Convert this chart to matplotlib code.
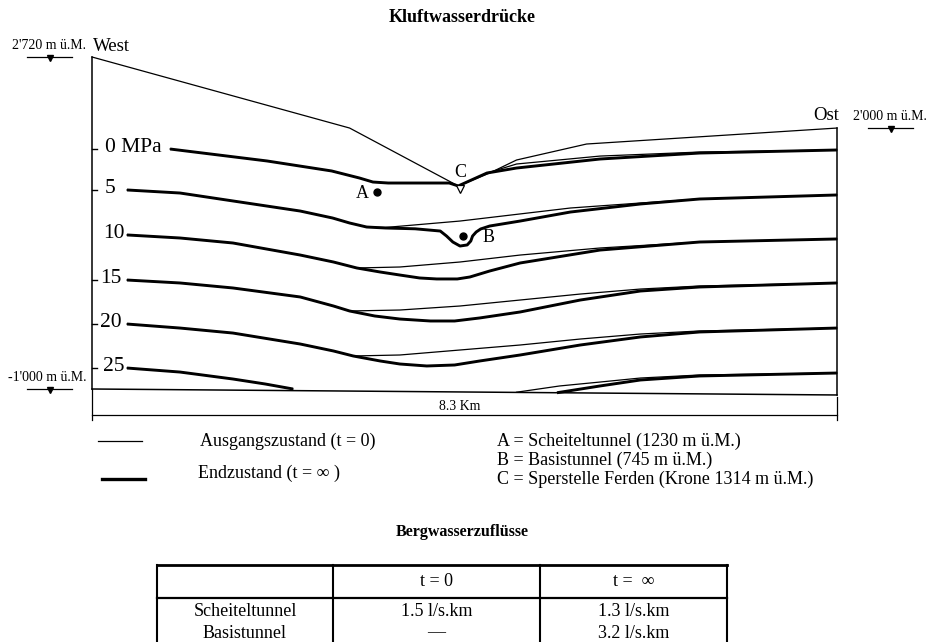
import matplotlib
matplotlib.use("Agg")
import matplotlib.pyplot as plt
from matplotlib.transforms import blended_transform_factory
from matplotlib.lines import Line2D

W, H = 926, 642
SERIF = ['Liberation Serif', 'DejaVu Serif']
plt.rcParams['font.family'] = SERIF

# ---------------- data: cross-section (distance km, elevation m ü.M.) ----------------
section_length_km = 8.3
top_west_m, bottom_m = 2720, -1000

terrain_km = [0.0, 2.87, 4.08, 4.43, 4.73, 5.51, 8.30]
terrain_m = [2720, 1924, 1275, 1420, 1566, 1745, 1924]

bottom_km = [0.0, 8.30]
bottom_line_m = [-1000, -1067]

iso_labels = ['0 MPa', '5', '10', '15', '20', '25']

p0_t0_km = [0.87, 1.95, 2.67, 2.98, 3.13, 3.30, 3.98, 4.08, 4.40, 4.73, 5.66, 6.77, 8.30]
p0_t0_m = [1689, 1555, 1443, 1364, 1319, 1308, 1308, 1275, 1420, 1521, 1610, 1655, 1678]
p0_tinf_km = [0.87, 1.95, 2.67, 2.98, 3.13, 3.30, 3.98, 4.08, 4.40, 4.73, 5.66, 6.77, 8.30]
p0_tinf_m = [1689, 1555, 1443, 1364, 1319, 1308, 1308, 1275, 1420, 1476, 1577, 1644, 1678]

p5_t0_km = [0.39, 0.98, 1.57, 2.32, 2.68, 2.87, 3.06, 3.27, 4.10, 5.33, 6.11, 6.77, 8.30]
p5_t0_m = [1230, 1196, 1107, 994, 916, 860, 815, 810, 882, 1028, 1084, 1129, 1174]
p5_tinf_km = [0.39, 0.98, 1.57, 2.32, 2.68, 2.87, 3.06, 3.27, 3.60, 3.88, 3.95, 4.02, 4.10,
              4.18, 4.22, 4.24, 4.28, 4.33, 4.43, 4.77, 5.33, 6.11, 6.77, 8.30]
p5_tinf_m = [1230, 1196, 1107, 994, 916, 860, 815, 804, 795, 770, 714, 647, 602,
             614, 658, 714, 759, 793, 826, 882, 983, 1073, 1129, 1174]

p10_t0_km = [0.39, 0.98, 1.57, 2.32, 2.69, 2.95, 3.43, 4.10, 4.77, 5.66, 6.77, 8.30]
p10_t0_m = [726, 692, 636, 501, 423, 356, 367, 423, 501, 580, 647, 681]
p10_tinf_km = [0.39, 0.98, 1.57, 2.32, 2.69, 2.95, 3.21, 3.43, 3.65, 3.84, 4.07, 4.21, 4.43, 4.77, 5.66, 6.77, 8.30]
p10_tinf_m = [726, 692, 636, 501, 423, 356, 311, 277, 244, 233, 233, 255, 322, 412, 557, 647, 681]

p15_t0_km = [0.39, 0.98, 1.57, 2.32, 2.69, 2.87, 3.43, 4.10, 4.77, 5.44, 6.11, 6.77, 8.30]
p15_t0_m = [221, 188, 132, 31, -70, -126, -115, -70, -3, 64, 120, 154, 188]
p15_tinf_km = [0.39, 0.98, 1.57, 2.32, 2.69, 2.87, 3.15, 3.43, 3.77, 4.04, 4.32, 4.77, 5.44, 6.11, 6.77, 8.30]
p15_tinf_m = [221, 188, 132, 31, -70, -126, -182, -216, -238, -238, -204, -137, -3, 98, 143, 188]

p20_t0_km = [0.39, 0.98, 1.57, 2.32, 2.69, 2.91, 3.43, 4.10, 4.77, 5.44, 6.11, 6.77, 8.30]
p20_t0_m = [-272, -317, -373, -496, -574, -630, -619, -563, -507, -440, -384, -350, -317]
p20_tinf_km = [0.39, 0.98, 1.57, 2.32, 2.69, 2.91, 3.21, 3.43, 3.73, 4.04, 4.32, 4.77, 5.44, 6.11, 6.77, 8.30]
p20_tinf_m = [-272, -317, -373, -496, -574, -630, -686, -720, -742, -731, -686, -619, -507, -417, -361, -317]

p25_left_km = [0.39, 0.98, 1.57, 1.93, 2.24]
p25_left_m = [-765, -810, -888, -944, -1000]
p25_t0_right_km = [4.73, 5.21, 5.66, 6.11, 6.77, 8.30]
p25_t0_right_m = [-1036, -966, -922, -877, -843, -821]
p25_tinf_right_km = [5.18, 5.66, 6.11, 6.77, 8.30]
p25_tinf_right_m = [-1042, -966, -899, -854, -821]

points_name = ['A', 'B']
points_km = [3.18, 4.13]
points_m = [1207, 714]
dam_km, dam_m = 4.10, 1246

legend_abc = ['A = Scheiteltunnel (1230 m ü.M.)',
              'B = Basistunnel (745 m ü.M.)',
              'C = Sperstelle Ferden (Krone 1314 m ü.M.)']

# ---------------- data: inflow table ----------------
table_header = ['', 't = 0', 't =  ∞']
table_rows = ['Scheiteltunnel', 'Basistunnel']
inflow_t0 = ['1.5 l/s.km', '—']
inflow_tinf = ['1.3 l/s.km', '3.2 l/s.km']

# ---------------- figure ----------------
fig = plt.figure(figsize=(W / 100, H / 100), dpi=100)
fig.patch.set_facecolor('white')


def fx(px):
    return px / W


def fy(py):
    return 1 - py / H


ax = fig.add_axes([fx(92), fy(389), 745 / W, 332 / H])
ax.set_xlim(0, section_length_km)
ax.set_ylim(bottom_m, top_west_m)
ax.axis('off')

tr_fig_data = blended_transform_factory(fig.transFigure, ax.transData)
tr_data_fig = blended_transform_factory(ax.transData, fig.transFigure)

THIN, THICK = 0.9, 2.1
K = 'black'

# outline
ax.plot(terrain_km, terrain_m, color=K, lw=THIN, clip_on=False)
ax.plot([0, 0], [top_west_m, bottom_m], color=K, lw=1.1, clip_on=False)
ax.plot([section_length_km, section_length_km], [terrain_m[-1], bottom_line_m[-1]], color=K, lw=1.1, clip_on=False)
ax.plot(bottom_km, bottom_line_m, color=K, lw=1.1, clip_on=False)

# isobars
t0_sets = [(p0_t0_km, p0_t0_m), (p5_t0_km, p5_t0_m), (p10_t0_km, p10_t0_m),
           (p15_t0_km, p15_t0_m), (p20_t0_km, p20_t0_m),
           (p25_left_km, p25_left_m), (p25_t0_right_km, p25_t0_right_m)]
tinf_sets = [(p0_tinf_km, p0_tinf_m), (p5_tinf_km, p5_tinf_m), (p10_tinf_km, p10_tinf_m),
             (p15_tinf_km, p15_tinf_m), (p20_tinf_km, p20_tinf_m),
             (p25_left_km, p25_left_m), (p25_tinf_right_km, p25_tinf_right_m)]
for xs, ys in t0_sets:
    ax.plot(xs, ys, color=K, lw=THIN, clip_on=False, solid_joinstyle='round')
for xs, ys in tinf_sets:
    ax.plot(xs, ys, color=K, lw=THICK, clip_on=False, solid_joinstyle='round', solid_capstyle='butt')

# isobar labels and ticks on west boundary
label_starts = [p0_t0_m[0], p5_t0_m[0], p10_t0_m[0], p15_t0_m[0], p20_t0_m[0], p25_left_m[0]]
label_px = [105, 105, 103, 100, 100, 103]
for lab, y, px in zip(iso_labels, label_starts, label_px):
    ax.text(fx(px), y + 15, lab, transform=tr_fig_data, ha='left', va='center', fontsize=15.5)
for y in [label_starts[0], label_starts[1], label_starts[3], label_starts[4], label_starts[5]]:
    ax.plot([fx(92), fx(97)], [y, y], color=K, lw=1.0, transform=tr_fig_data, clip_on=False)

# points A, B and dam C
ax.plot(points_km, points_m, 'o', color=K, ms=5, clip_on=False)
ax.text(points_km[0] - 0.1, points_m[0] - 20, points_name[0], ha='right', va='center', fontsize=13)
ax.text(points_km[1] + 0.22, points_m[1] - 20, points_name[1], ha='left', va='center', fontsize=13)
ax.plot([dam_km], [dam_m], marker='v', ms=6, mfc='white', mec=K, mew=0.9, clip_on=False)
ax.text(dam_km, dam_m + 185, 'C', ha='center', va='center', fontsize=13)

# West / Ost and elevation markers
ax.text(fx(93), top_west_m + 70, 'West', transform=tr_fig_data, ha='left', va='baseline', fontsize=13.5)
ax.text(fx(839), terrain_m[-1] + 90, 'Ost', transform=tr_fig_data, ha='right', va='baseline', fontsize=13.5)

elev_marks = [("2'720 m ü.M.", top_west_m, 27, 72, 86, 'right'),
              ("-1'000 m ü.M.", bottom_m, 27, 72, 87, 'right'),
              ("2'000 m ü.M.", terrain_m[-1], 868, 913, 853, 'left')]
for lab, y, x0, x1, xt, ha in elev_marks:
    ax.plot([fx(x0), fx(x1)], [y, y], color=K, lw=0.9, transform=tr_fig_data, clip_on=False)
    ax.plot([fx((x0 + x1) / 2)], [y - 15], marker='v', ms=5, color=K, transform=tr_fig_data, clip_on=False)
    ax.text(fx(xt), y + 60, lab, transform=tr_fig_data, ha=ha, va='bottom', fontsize=10)

# dimension line 8.3 km
ax.plot([0, section_length_km], [fy(415), fy(415)], color=K, lw=0.9, transform=tr_data_fig, clip_on=False)
ax.plot([0, 0], [fy(389), fy(420)], color=K, lw=0.9, transform=tr_data_fig, clip_on=False)
ax.plot([section_length_km, section_length_km], [fy(397), fy(420)], color=K, lw=0.9, transform=tr_data_fig, clip_on=False)
ax.text(section_length_km / 2 - 0.05, fy(407), '8.3 Km', transform=tr_data_fig, ha='center', va='center', fontsize=10)

# title
fig.text(fx(462), fy(18), 'Kluftwasserdrücke', ha='center', va='center', fontsize=13, fontweight='bold')

# legend
fig.add_artist(Line2D([fx(98), fx(142)], [fy(441), fy(441)], color=K, lw=THIN))
fig.add_artist(Line2D([fx(102), fx(145)], [fy(479), fy(479)], color=K, lw=THICK + 0.3))
fig.text(fx(200), fy(441), 'Ausgangszustand (t = 0)', ha='left', va='center', fontsize=13)
fig.text(fx(198), fy(473), 'Endzustand (t = ∞ )', ha='left', va='center', fontsize=13)
for i, s in enumerate(legend_abc):
    fig.text(fx(497), fy(441 + 19 * i), s, ha='left', va='center', fontsize=13)

# table
fig.text(fx(462), fy(532), 'Bergwasserzuflüsse', ha='center', va='center', fontsize=11.5, fontweight='bold')
col_edges = [157, 333, 540, 727]
top_y, head_y = 565, 598
fig.add_artist(Line2D([fx(col_edges[0]), fx(col_edges[-1])], [fy(top_y), fy(top_y)], color=K, lw=2.0))
fig.add_artist(Line2D([fx(col_edges[0]), fx(col_edges[-1])], [fy(head_y), fy(head_y)], color=K, lw=1.6))
for cx in col_edges:
    fig.add_artist(Line2D([fx(cx), fx(cx)], [fy(top_y), 0], color=K, lw=1.5))
centers = [(col_edges[i] + col_edges[i + 1]) / 2 for i in range(3)]
for c, h in zip(centers, table_header):
    fig.text(fx(c), fy(582), h, ha='center', va='center', fontsize=13)
row_y = [611, 633]
for r, name in enumerate(table_rows):
    fig.text(fx(centers[0]), fy(row_y[r]), name, ha='center', va='center', fontsize=13)
    fig.text(fx(centers[1]), fy(row_y[r]), inflow_t0[r], ha='center', va='center', fontsize=13)
    fig.text(fx(centers[2]), fy(row_y[r]), inflow_tinf[r], ha='center', va='center', fontsize=13)

fig.savefig('out.png', dpi=100, facecolor='white')
